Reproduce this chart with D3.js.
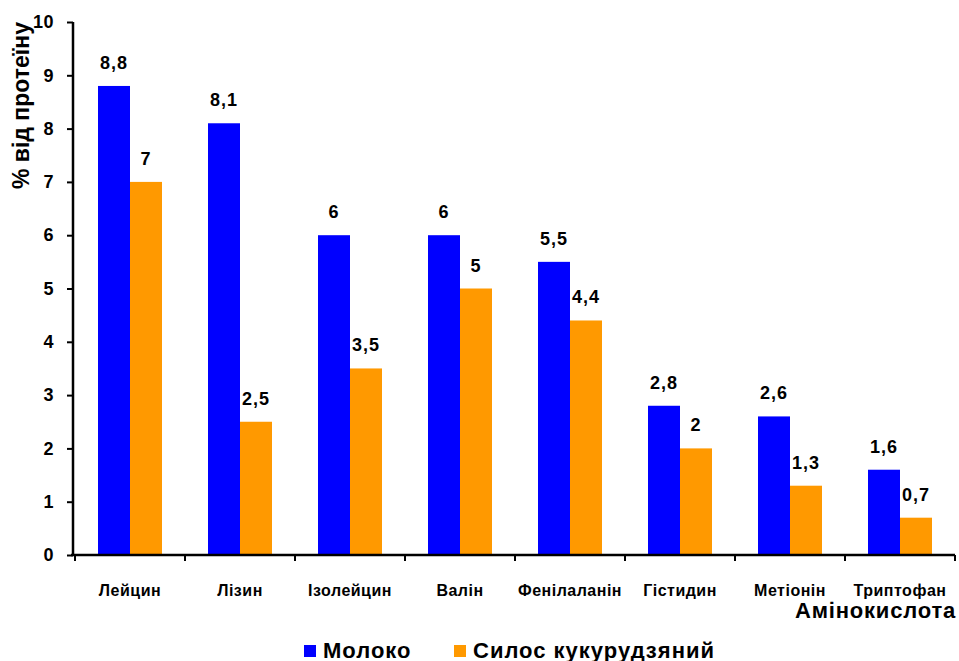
<!DOCTYPE html>
<html>
<head>
<meta charset="utf-8">
<script src="https://cdn.jsdelivr.net/npm/d3@7"></script>
<style>
  html, body { margin: 0; padding: 0; background: #fff; }
  svg { display: block; font-family: Arial, "Liberation Sans", sans-serif; }
</style>
</head>
<body>
<svg id="chart" width="959" height="661"></svg>
<script>
// Amino acid content, % of protein
const categories = ["Лейцин", "Лізин", "Ізолейцин", "Валін", "Фенілаланін", "Гістидин", "Метіонін", "Триптофан"];
const milk = [8.8, 8.1, 6, 6, 5.5, 2.8, 2.6, 1.6];
const silage = [7, 2.5, 3.5, 5, 4.4, 2, 1.3, 0.7];
const seriesNames = ["Молоко", "Силос кукурудзяний"];
const seriesColors = ["#0000FF", "#FF9900"];
const yTicks = [0, 1, 2, 3, 4, 5, 6, 7, 8, 9, 10];

const svg = d3.select("#chart");
const fmt = v => String(v).replace(".", ",");

const x0 = d3.scaleBand().domain(categories).range([75, 955]).paddingInner(0).paddingOuter(0);
const x1 = d3.scaleBand().domain([0, 1]).range([23, 87]);
const y = d3.scaleLinear().domain([0, 10]).range([555, 22]);

const series = [milk, silage];

// bars
const groups = svg.append("g").selectAll("g")
  .data(categories)
  .join("g")
  .attr("transform", d => `translate(${x0(d)},0)`);

groups.selectAll("rect")
  .data((d, i) => series.map((s, k) => ({ k, v: s[i] })))
  .join("rect")
  .attr("x", d => x1(d.k))
  .attr("width", x1.bandwidth())
  .attr("y", d => y(d.v))
  .attr("height", d => y(0) - y(d.v))
  .attr("fill", d => seriesColors[d.k]);

// value labels
groups.selectAll("text")
  .data((d, i) => series.map((s, k) => ({ k, v: s[i] })))
  .join("text")
  .attr("x", d => x1(d.k) + x1.bandwidth() / 2)
  .attr("y", d => y(d.v) - 17)
  .attr("text-anchor", "middle")
  .attr("font-size", 18)
  .attr("font-weight", "bold")
  .attr("letter-spacing", 1)
  .attr("fill", "#000")
  .text(d => fmt(d.v));

// y axis
const yAxis = svg.append("g")
  .attr("transform", "translate(73,0)")
  .call(d3.axisLeft(y).tickValues(yTicks).tickSize(6).tickPadding(13).tickFormat(d => d));
yAxis.select(".domain").attr("stroke", "#000").attr("stroke-width", 2.5).attr("d", `M0,${y(10)}V${y(0)}`);
yAxis.selectAll(".tick line").attr("stroke", "#000").attr("stroke-width", 2);
yAxis.selectAll(".tick text")
  .attr("font-size", 18).attr("font-weight", "bold").attr("fill", "#000")
  .attr("letter-spacing", 0.5)
  .attr("font-family", "Arial, 'Liberation Sans', sans-serif");

// x axis
const xAxis = svg.append("g")
  .attr("transform", `translate(0,${y(0)})`);
xAxis.append("line")
  .attr("x1", 71).attr("x2", 955)
  .attr("stroke", "#000").attr("stroke-width", 2.5);
const xTickPos = categories.map(c => x0(c)).concat([x0.range()[1]]);
xAxis.selectAll("line.tick")
  .data(xTickPos)
  .join("line")
  .attr("class", "tick")
  .attr("x1", d => d).attr("x2", d => d)
  .attr("y1", 0).attr("y2", 6)
  .attr("stroke", "#000").attr("stroke-width", 2);
xAxis.selectAll("text")
  .data(categories)
  .join("text")
  .attr("x", d => x0(d) + x0.bandwidth() / 2)
  .attr("y", 41)
  .attr("text-anchor", "middle")
  .attr("font-size", 16)
  .attr("font-weight", "bold")
  .attr("letter-spacing", 0.5)
  .attr("fill", "#000")
  .text(d => d);

// axis titles
svg.append("text")
  .attr("transform", "translate(29,22) rotate(-90)")
  .attr("text-anchor", "end")
  .attr("font-size", 23)
  .attr("font-weight", "bold")
  .attr("fill", "#000")
  .text("% від протеїну");

svg.append("text")
  .attr("x", 956)
  .attr("y", 618)
  .attr("text-anchor", "end")
  .attr("font-size", 22)
  .attr("font-weight", "bold")
  .attr("letter-spacing", 0.8)
  .attr("fill", "#000")
  .text("Амінокислота");

// legend
const legendX = [304, 454];
const legend = svg.append("g").selectAll("g")
  .data(seriesNames)
  .join("g")
  .attr("transform", (d, i) => `translate(${legendX[i]},0)`);
legend.append("rect")
  .attr("x", 0).attr("y", 645).attr("width", 12).attr("height", 12)
  .attr("fill", (d, i) => seriesColors[i]);
legend.append("text")
  .attr("x", 19).attr("y", 658)
  .attr("font-size", 22)
  .attr("font-weight", "bold")
  .attr("letter-spacing", 1)
  .attr("fill", "#000")
  .text(d => d);
</script>
</body>
</html>
